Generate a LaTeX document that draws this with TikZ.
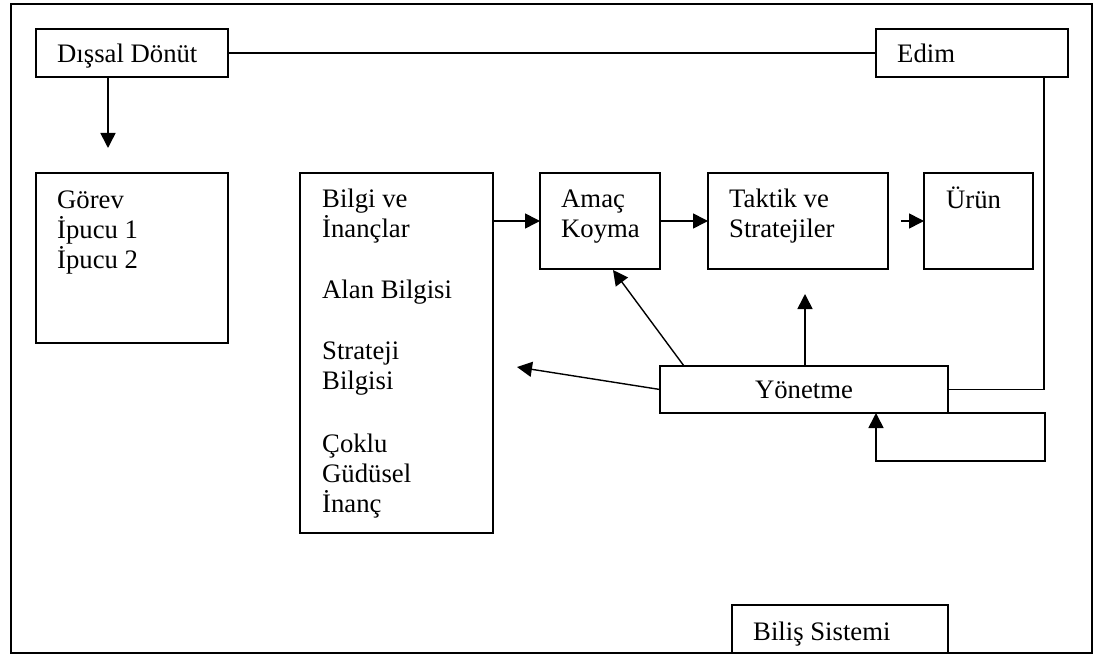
\documentclass[tikz,border=0pt]{standalone}
\usepackage{fontspec}
\setmainfont{Liberation Serif}
\usetikzlibrary{arrows.meta,calc}
\begin{document}
\begin{tikzpicture}[x=1pt,y=-1pt,
  blok/.style={draw, line width=1.6pt, rectangle, anchor=north west,
               inner sep=0pt, outer sep=0pt},
  yazi/.style={anchor=base west, inner sep=0pt,
               font=\fontsize{26.7}{30}\selectfont},
  hat/.style={line width=1.6pt},
  ok/.style={line width=1.6pt, -{Triangle[length=15pt,width=15pt]}},
  ince/.style={line width=1.4pt, -{Triangle[length=15pt,width=15pt]}},
]
\useasboundingbox (0,0) rectangle (1098,655);

% outer frame
\draw[hat] (11,4) rectangle (1092,653);

% boxes
\node[blok, minimum width=192pt, minimum height=48pt]  (dis)    at (36,29)   {};
\node[blok, minimum width=192pt, minimum height=48pt]  (edim)   at (876,29)  {};
\node[blok, minimum width=192pt, minimum height=170pt] (gorev)  at (36,173)  {};
\node[blok, minimum width=193pt, minimum height=360pt] (bilgi)  at (300,173) {};
\node[blok, minimum width=120pt, minimum height=96pt]  (amac)   at (540,173) {};
\node[blok, minimum width=180pt, minimum height=96pt]  (taktik) at (708,173) {};
\node[blok, minimum width=109pt, minimum height=96pt]  (urun)   at (924,173) {};
\node[blok, minimum width=288pt, minimum height=47pt,
      font=\fontsize{26.7}{30}\selectfont]             (yon)    at (660,366) {Yönetme};
\node[blok, minimum width=216pt, minimum height=48pt]  (bilis)  at (732,605) {};

% box texts
\node[yazi] (dis-t)    at ($(dis.north west)+(21,34)$)    {Dışsal Dönüt};
\node[yazi] (edim-t)   at ($(edim.north west)+(21,34)$)   {Edim};
\node[yazi] (gorev-t)  at ($(gorev.north west)+(21,36)$)
  {\parbox[t]{160pt}{Görev\\İpucu 1\\İpucu 2}};
\node[yazi] (bilgi-t)  at ($(bilgi.north west)+(22,35)$)
  {\parbox[t]{160pt}{Bilgi ve\\İnançlar\\[31pt]Alan Bilgisi\\[31pt]Strateji\\Bilgisi\\[33pt]Çoklu\\Güdüsel\\İnanç}};
\node[yazi] (amac-t)   at ($(amac.north west)+(21,35)$)
  {\parbox[t]{100pt}{Amaç\\Koyma}};
\node[yazi] (taktik-t) at ($(taktik.north west)+(21,35)$)
  {\parbox[t]{150pt}{Taktik ve\\Stratejiler}};
\node[yazi] (urun-t)   at ($(urun.north west)+(22,36)$)   {Ürün};
\node[yazi] (bilis-t)  at ($(bilis.north west)+(21,35)$)  {Biliş Sistemi};

% free ends of connectors
\coordinate (gtip)  at (108,148);
\coordinate (uin)   at (901,221);
\coordinate (atip)  at (613,270);
\coordinate (ybas)  at (684,366);
\coordinate (ttip)  at (805,294);
\coordinate (btip)  at (517,367);
\coordinate (sag)   at (1044,389);
\coordinate (dongu) at (1045,461);

% connectors
\draw[hat] (dis.east) -- (edim.west);
\draw[ok]  (dis.south -| gtip) -- (gtip);
\draw[ok]  (bilgi.east |- amac.west) -- (amac.west);
\draw[ok]  (amac.east) -- (taktik.west);
\draw[ok]  (uin) -- (urun.west);
\draw[ince] (ybas) -- (atip);
\draw[ok]  (yon.north -| ttip) -- (ttip);
\draw[ince] (yon.west) -- (btip);
\draw[hat] (edim.south -| sag) -- (sag |- yon.east) -- (yon.east);
\draw[ok]  (yon.south east) -- (yon.south east -| dongu) -- (dongu)
           -- (dongu -| 876,0) -- (yon.south -| 876,0);
\end{tikzpicture}
\end{document}
